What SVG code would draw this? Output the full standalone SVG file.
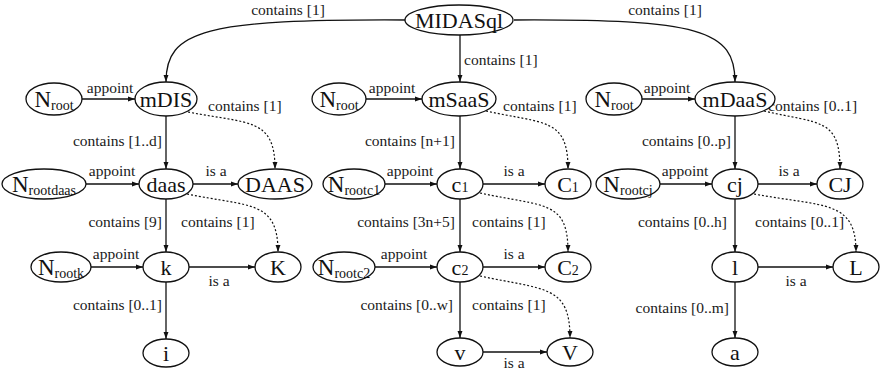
<svg xmlns="http://www.w3.org/2000/svg" width="881" height="372" viewBox="0 0 881 372">
  <style>
    .node ellipse { fill: #fff; stroke: #111; stroke-width: 1.3; }
    .nt { font-family: "Liberation Serif", "Times New Roman", serif; font-size: 22px; fill: #111; text-anchor: middle; }
    .big { font-size: 23px; }
    .sub { font-size: 14px; }
    .lbl { font-family: "Liberation Serif", "Times New Roman", serif; font-size: 15.5px; fill: #1a1a1a; }
    .mid { text-anchor: middle; }
    .end { text-anchor: end; }
    .edge { fill: none; stroke: #111; stroke-width: 1.3; marker-end: url(#arr); }
    .dot { fill: none; stroke: #111; stroke-width: 1.2; stroke-dasharray: 2 2; marker-end: url(#arr); }
  </style>
  <defs>
    <marker id="arr" viewBox="0 0 10 10" refX="10" refY="5" markerWidth="7" markerHeight="7" orient="auto" markerUnits="userSpaceOnUse">
      <path d="M0,1.5 L10,5 L0,8.5 z" fill="#111"/>
    </marker>
  </defs>
  <rect width="881" height="372" fill="#fff"/>

  <!-- connectors -->
  <g id="edges">
    <!-- MIDASql to the three models -->
    <path class="edge" d="M406,20 C 205,19 166,30 166,82"/>
    <path class="edge" d="M460,35 L460,82"/>
    <path class="edge" d="M514,20 C 700,19 735,30 735,82"/>

    <!-- appoint -->
    <path class="edge" d="M82,99 L135,99"/>
    <path class="edge" d="M366,99 L422,99"/>
    <path class="edge" d="M642,99 L695,99"/>
    <path class="edge" d="M86,184 L139,184"/>
    <path class="edge" d="M385,184 L437,184"/>
    <path class="edge" d="M660,184 L712,184"/>
    <path class="edge" d="M91,267 L143,267"/>
    <path class="edge" d="M375,267 L437,267"/>

    <!-- is a -->
    <path class="edge" d="M193,184 L238,184"/>
    <path class="edge" d="M483,184 L545,184"/>
    <path class="edge" d="M758,184 L817,184"/>
    <path class="edge" d="M189,267 L255,267"/>
    <path class="edge" d="M483,267 L545,267"/>
    <path class="edge" d="M758,267 L833,267"/>
    <path class="edge" d="M483,352 L547,352"/>

    <!-- contains (solid, downward) -->
    <path class="edge" d="M166,116 L166,169"/>
    <path class="edge" d="M166,199 L166,252"/>
    <path class="edge" d="M166,282 L166,339"/>
    <path class="edge" d="M460,116 L460,169"/>
    <path class="edge" d="M460,199 L460,252"/>
    <path class="edge" d="M460,282 L460,338"/>
    <path class="edge" d="M735,116 L735,169"/>
    <path class="edge" d="M735,199 L735,252"/>
    <path class="edge" d="M735,282 L735,338"/>

    <!-- contains (dotted, to the type nodes) -->
    <path class="dot" d="M188,112 C 250,124 275,118 275,169"/>
    <path class="dot" d="M486,111 C 545,124 568,118 568,169"/>
    <path class="dot" d="M764,111 C 820,124 840,118 840,169"/>
    <path class="dot" d="M187,194 C 250,207 278,200 278,252"/>
    <path class="dot" d="M480,193 C 545,207 568,200 568,252"/>
    <path class="dot" d="M754,194 C 825,207 856,200 856,252"/>
    <path class="dot" d="M480,276 C 545,290 570,285 570,338"/>

    <!-- edge labels -->
    <text class="lbl mid" x="288" y="15">contains [1]</text>
    <text class="lbl mid" x="665" y="15">contains [1]</text>
    <text class="lbl" x="464" y="65">contains [1]</text>

    <text class="lbl mid" x="110" y="93">appoint</text>
    <text class="lbl mid" x="392" y="93">appoint</text>
    <text class="lbl mid" x="667" y="93">appoint</text>
    <text class="lbl mid" x="112" y="176">appoint</text>
    <text class="lbl mid" x="410" y="176">appoint</text>
    <text class="lbl mid" x="685" y="176">appoint</text>
    <text class="lbl mid" x="116" y="259">appoint</text>
    <text class="lbl mid" x="404" y="259">appoint</text>

    <text class="lbl" x="208" y="111">contains [1]</text>
    <text class="lbl" x="503" y="111">contains [1]</text>
    <text class="lbl" x="768" y="111">contains [0..1]</text>

    <text class="lbl end" x="162" y="146">contains [1..d]</text>
    <text class="lbl end" x="455" y="146">contains [n+1]</text>
    <text class="lbl end" x="731" y="146">contains [0..p]</text>

    <text class="lbl mid" x="216" y="176">is a</text>
    <text class="lbl mid" x="514" y="176">is a</text>
    <text class="lbl mid" x="789" y="176">is a</text>

    <text class="lbl end" x="162" y="227">contains [9]</text>
    <text class="lbl" x="181" y="227">contains [1]</text>
    <text class="lbl end" x="455" y="227">contains [3n+5]</text>
    <text class="lbl" x="472" y="227">contains [1]</text>
    <text class="lbl end" x="727" y="227">contains [0..h]</text>
    <text class="lbl" x="755" y="227">contains [0..1]</text>

    <text class="lbl mid" x="219" y="286">is a</text>
    <text class="lbl mid" x="514" y="259">is a</text>
    <text class="lbl mid" x="796" y="286">is a</text>

    <text class="lbl end" x="162" y="310">contains [0..1]</text>
    <text class="lbl end" x="453" y="310">contains [0..w]</text>
    <text class="lbl" x="472" y="310">contains [1]</text>
    <text class="lbl end" x="729" y="313">contains [0..m]</text>

    <text class="lbl mid" x="514" y="368">is a</text>
  </g>

  <!-- nodes -->
  <g id="MIDASql" class="node"><ellipse cx="459" cy="20" rx="54" ry="15"/><text class="nt" x="459" y="28">MIDASql</text></g>

  <g id="Nroot1" class="node"><ellipse cx="54" cy="99" rx="28" ry="16"/><text class="nt" x="54" y="107"><tspan class="big">N</tspan><tspan class="sub" dy="3">root</tspan></text></g>
  <g id="mDIS" class="node"><ellipse cx="166" cy="99" rx="31" ry="17"/><text class="nt" x="166" y="107">mDIS</text></g>
  <g id="Nrootdaas" class="node"><ellipse cx="44" cy="184" rx="42" ry="15"/><text class="nt" x="44" y="192"><tspan class="big">N</tspan><tspan class="sub" dy="3">rootdaas</tspan></text></g>
  <g id="daas" class="node"><ellipse cx="166" cy="184" rx="27" ry="15"/><text class="nt" x="166" y="192">daas</text></g>
  <g id="DAAS" class="node"><ellipse cx="275" cy="184" rx="37" ry="15"/><text class="nt" x="275" y="192">DAAS</text></g>
  <g id="Nrootk" class="node"><ellipse cx="61" cy="267" rx="30" ry="15"/><text class="nt" x="61" y="275"><tspan class="big">N</tspan><tspan class="sub" dy="3">rootk</tspan></text></g>
  <g id="k" class="node"><ellipse cx="166" cy="267" rx="23" ry="15"/><text class="nt" x="166" y="275">k</text></g>
  <g id="K" class="node"><ellipse cx="278" cy="267" rx="23" ry="15"/><text class="nt" x="278" y="275">K</text></g>
  <g id="i" class="node"><ellipse cx="166" cy="353" rx="23" ry="14"/><text class="nt" x="166" y="361">i</text></g>

  <g id="Nroot2" class="node"><ellipse cx="339" cy="99" rx="27" ry="16"/><text class="nt" x="339" y="107"><tspan class="big">N</tspan><tspan class="sub" dy="3">root</tspan></text></g>
  <g id="mSaaS" class="node"><ellipse cx="459" cy="99" rx="37" ry="17"/><text class="nt" x="459" y="107">mSaaS</text></g>
  <g id="Nrootc1" class="node"><ellipse cx="354" cy="184" rx="31" ry="15"/><text class="nt" x="354" y="192"><tspan class="big">N</tspan><tspan class="sub" dy="3">rootc1</tspan></text></g>
  <g id="c1" class="node"><ellipse cx="460" cy="184" rx="23" ry="15"/><text class="nt" x="460" y="192">c<tspan class="sub">1</tspan></text></g>
  <g id="C1" class="node"><ellipse cx="568" cy="184" rx="23" ry="15"/><text class="nt" x="568" y="192">C<tspan class="sub">1</tspan></text></g>
  <g id="Nrootc2" class="node"><ellipse cx="344" cy="267" rx="31" ry="15"/><text class="nt" x="344" y="275"><tspan class="big">N</tspan><tspan class="sub" dy="3">rootc2</tspan></text></g>
  <g id="c2" class="node"><ellipse cx="460" cy="267" rx="23" ry="15"/><text class="nt" x="460" y="275">c<tspan class="sub">2</tspan></text></g>
  <g id="C2" class="node"><ellipse cx="568" cy="267" rx="23" ry="15"/><text class="nt" x="568" y="275">C<tspan class="sub">2</tspan></text></g>
  <g id="v" class="node"><ellipse cx="460" cy="352" rx="23" ry="14"/><text class="nt" x="460" y="360">v</text></g>
  <g id="V" class="node"><ellipse cx="570" cy="352" rx="23" ry="14"/><text class="nt" x="570" y="360">V</text></g>

  <g id="Nroot3" class="node"><ellipse cx="614" cy="99" rx="28" ry="16"/><text class="nt" x="614" y="107"><tspan class="big">N</tspan><tspan class="sub" dy="3">root</tspan></text></g>
  <g id="mDaaS" class="node"><ellipse cx="735" cy="99" rx="40" ry="17"/><text class="nt" x="735" y="107">mDaaS</text></g>
  <g id="Nrootcj" class="node"><ellipse cx="628" cy="184" rx="32" ry="15"/><text class="nt" x="628" y="192"><tspan class="big">N</tspan><tspan class="sub" dy="3">rootcj</tspan></text></g>
  <g id="cj" class="node"><ellipse cx="735" cy="184" rx="23" ry="15"/><text class="nt" x="735" y="192">cj</text></g>
  <g id="CJ" class="node"><ellipse cx="840" cy="184" rx="23" ry="15"/><text class="nt" x="840" y="192">CJ</text></g>
  <g id="l" class="node"><ellipse cx="735" cy="267" rx="23" ry="15"/><text class="nt" x="735" y="275">l</text></g>
  <g id="L" class="node"><ellipse cx="856" cy="267" rx="23" ry="15"/><text class="nt" x="856" y="275">L</text></g>
  <g id="a" class="node"><ellipse cx="735" cy="352" rx="23" ry="14"/><text class="nt" x="735" y="360">a</text></g>
</svg>
